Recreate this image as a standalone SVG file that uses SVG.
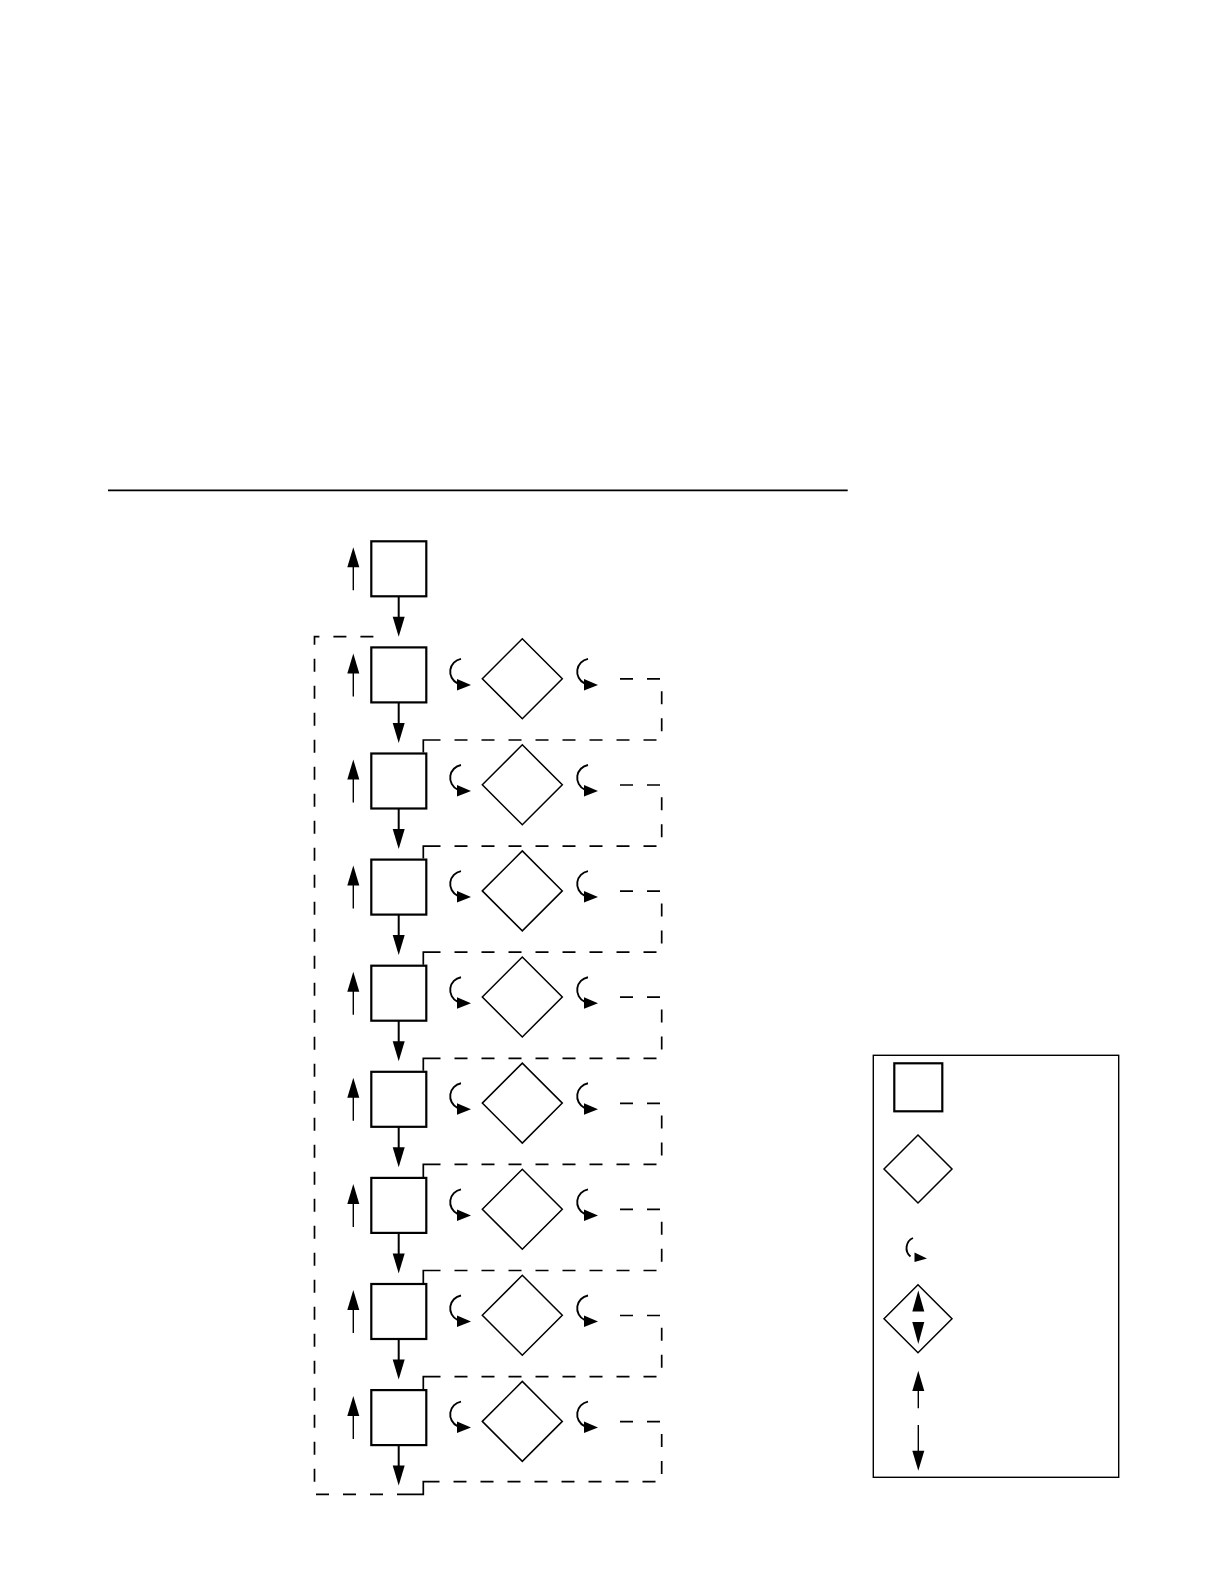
<svg xmlns="http://www.w3.org/2000/svg" width="1224" height="1584" viewBox="0 0 1224 1584">
<style>
.box{fill:#fff;stroke:#000;stroke-width:2.2}
.dia{fill:#fff;stroke:#000;stroke-width:1.5}
.ln{fill:none;stroke:#000;stroke-width:1.4}
.curl{fill:none;stroke:#000;stroke-width:1.9}
.thick{fill:none;stroke:#000;stroke-width:2}
.dash{fill:none;stroke:#000;stroke-width:1.7;stroke-dasharray:13 14}
.solid{fill:none;stroke:#000;stroke-width:1.7}
.head{fill:#000;stroke:none}
</style>
<defs>
<g id="upArrow"><line class="ln" x1="353.3" y1="50" x2="353.3" y2="25"/><polygon class="head" points="347.3,27 359.3,27 353.3,7"/></g>
<g id="downArrow"><line class="thick" x1="398.7" y1="56" x2="398.7" y2="78"/><polygon class="head" points="392.7,76.5 404.7,76.5 398.7,96.5"/></g>
<g id="curlL"><path class="curl" d="M461,12.5 A13,13 0 0 0 457.5,37"/><polygon class="head" points="457,32.5 457,44 471,38.5"/></g>
<g id="curlR"><use href="#curlL" transform="translate(127,0)"/></g>
</defs>
<rect width="1224" height="1584" fill="#fff"/>
<line x1="108" y1="490.3" x2="847.7" y2="490.3" stroke="#000" stroke-width="1.8"/>

<g id="nodes">
<g id="box0" transform="translate(0,540.3)"><rect class="box" x="371.3" y="1" width="55" height="55"/></g>
<g id="box1" transform="translate(0,646.4)"><rect class="box" x="371.3" y="1" width="55" height="55"/></g>
<g id="box2" transform="translate(0,752.5)"><rect class="box" x="371.3" y="1" width="55" height="55"/></g>
<g id="box3" transform="translate(0,858.6)"><rect class="box" x="371.3" y="1" width="55" height="55"/></g>
<g id="box4" transform="translate(0,964.7)"><rect class="box" x="371.3" y="1" width="55" height="55"/></g>
<g id="box5" transform="translate(0,1070.8)"><rect class="box" x="371.3" y="1" width="55" height="55"/></g>
<g id="box6" transform="translate(0,1176.9)"><rect class="box" x="371.3" y="1" width="55" height="55"/></g>
<g id="box7" transform="translate(0,1283.0)"><rect class="box" x="371.3" y="1" width="55" height="55"/></g>
<g id="box8" transform="translate(0,1389.1)"><rect class="box" x="371.3" y="1" width="55" height="55"/></g>
<g id="dia1" transform="translate(0,646.4)"><polygon class="dia" points="482.3,32.3 522.3,-7.7 562.3,32.3 522.3,72.3"/></g>
<g id="dia2" transform="translate(0,752.5)"><polygon class="dia" points="482.3,32.3 522.3,-7.7 562.3,32.3 522.3,72.3"/></g>
<g id="dia3" transform="translate(0,858.6)"><polygon class="dia" points="482.3,32.3 522.3,-7.7 562.3,32.3 522.3,72.3"/></g>
<g id="dia4" transform="translate(0,964.7)"><polygon class="dia" points="482.3,32.3 522.3,-7.7 562.3,32.3 522.3,72.3"/></g>
<g id="dia5" transform="translate(0,1070.8)"><polygon class="dia" points="482.3,32.3 522.3,-7.7 562.3,32.3 522.3,72.3"/></g>
<g id="dia6" transform="translate(0,1176.9)"><polygon class="dia" points="482.3,32.3 522.3,-7.7 562.3,32.3 522.3,72.3"/></g>
<g id="dia7" transform="translate(0,1283.0)"><polygon class="dia" points="482.3,32.3 522.3,-7.7 562.3,32.3 522.3,72.3"/></g>
<g id="dia8" transform="translate(0,1389.1)"><polygon class="dia" points="482.3,32.3 522.3,-7.7 562.3,32.3 522.3,72.3"/></g>
</g>

<g id="connectors">
<g transform="translate(0,540.3)"><use href="#upArrow"/><use href="#downArrow"/></g>
<g transform="translate(0,646.4)"><use href="#upArrow"/><use href="#downArrow"/><use href="#curlL"/><use href="#curlR"/>
<path class="dash" d="M620,32.5 H661.7 V93.6 H436"/><path class="solid" d="M436,93.6 H423.3 V106.1"/></g>
<g transform="translate(0,752.5)"><use href="#upArrow"/><use href="#downArrow"/><use href="#curlL"/><use href="#curlR"/>
<path class="dash" d="M620,32.5 H661.7 V93.6 H436"/><path class="solid" d="M436,93.6 H423.3 V106.1"/></g>
<g transform="translate(0,858.6)"><use href="#upArrow"/><use href="#downArrow"/><use href="#curlL"/><use href="#curlR"/>
<path class="dash" d="M620,32.5 H661.7 V93.6 H436"/><path class="solid" d="M436,93.6 H423.3 V106.1"/></g>
<g transform="translate(0,964.7)"><use href="#upArrow"/><use href="#downArrow"/><use href="#curlL"/><use href="#curlR"/>
<path class="dash" d="M620,32.5 H661.7 V93.6 H436"/><path class="solid" d="M436,93.6 H423.3 V106.1"/></g>
<g transform="translate(0,1070.8)"><use href="#upArrow"/><use href="#downArrow"/><use href="#curlL"/><use href="#curlR"/>
<path class="dash" d="M620,32.5 H661.7 V93.6 H436"/><path class="solid" d="M436,93.6 H423.3 V106.1"/></g>
<g transform="translate(0,1176.9)"><use href="#upArrow"/><use href="#downArrow"/><use href="#curlL"/><use href="#curlR"/>
<path class="dash" d="M620,32.5 H661.7 V93.6 H436"/><path class="solid" d="M436,93.6 H423.3 V106.1"/></g>
<g transform="translate(0,1283.0)"><use href="#upArrow"/><use href="#downArrow"/><use href="#curlL"/><use href="#curlR"/>
<path class="dash" d="M620,32.5 H661.7 V93.6 H436"/><path class="solid" d="M436,93.6 H423.3 V106.1"/></g>
<g transform="translate(0,1389.1)"><use href="#upArrow"/><use href="#downArrow"/><use href="#curlL"/><use href="#curlR"/>
<path class="dash" d="M620,32.5 H661.7 V92.6 H436"/><path class="solid" d="M436,92.6 H423.3 V105.2 H410"/></g>
<path class="dash" d="M410,1494.3 H314.5 V636.7 H386"/>
</g>

<g id="legend">
<rect x="873.3" y="1055.3" width="245.4" height="422" fill="none" stroke="#000" stroke-width="1.4"/>
<g id="legend-box"><rect class="box" x="894.3" y="1063.3" width="48" height="48"/></g>
<g id="legend-diamond"><polygon class="dia" points="884,1169 918,1135 952,1169 918,1203"/></g>
<g id="legend-curl"><path class="curl" d="M913,1238 A11,11 0 0 0 910.5,1256.5"/><polygon class="head" points="914.5,1252.5 914.5,1262 927,1258.5"/></g>
<g id="legend-diamond-arrows"><polygon class="dia" points="884,1318.7 918,1284.7 952,1318.7 918,1352.7"/>
<polygon class="head" points="912.3,1311.5 924.3,1311.5 918.3,1290.5"/><polygon class="head" points="912.3,1322 924.3,1322 918.3,1344"/></g>
<g id="legend-up"><line class="ln" x1="918.3" y1="1408.3" x2="918.3" y2="1388"/><polygon class="head" points="912.3,1391 924.3,1391 918.3,1370.7"/></g>
<g id="legend-down"><line class="ln" x1="918.3" y1="1425" x2="918.3" y2="1453"/><polygon class="head" points="912.3,1450.7 924.3,1450.7 918.3,1470.7"/></g>
</g>
</svg>
